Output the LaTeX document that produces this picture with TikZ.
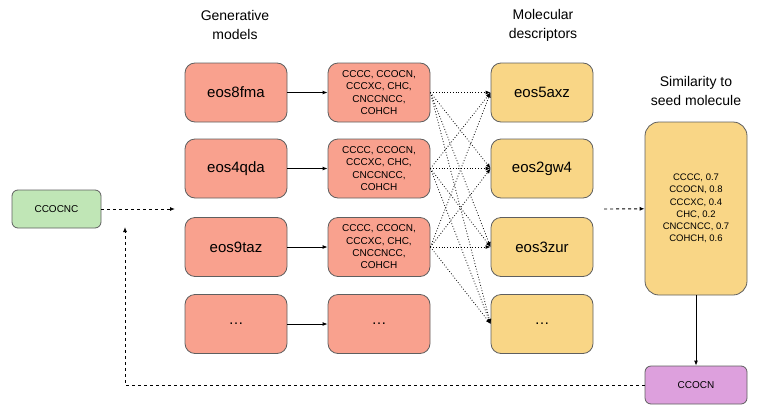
\documentclass[tikz,border=0pt]{standalone}
\usepackage{fontspec}
\setmainfont{Liberation Sans}
\usetikzlibrary{arrows.meta,positioning}
\definecolor{salmon}{RGB}{249,161,142}
\definecolor{sand}{RGB}{249,214,134}
\definecolor{mint}{RGB}{192,230,182}
\definecolor{lilac}{RGB}{221,160,221}
\definecolor{rim}{RGB}{95,95,95}

\begin{document}
\begin{tikzpicture}[
      x=1pt,y=-1pt,
      >={Latex[length=5pt,width=4pt]},
      box/.style={draw=rim,line width=0.8pt,rounded corners=10pt,minimum width=102pt,
                  minimum height=59pt,inner sep=2pt,align=center},
      gen/.style={box,fill=salmon,font=\fontsize{15}{18}\selectfont},
      smi/.style={box,fill=salmon,font=\fontsize{10}{12.3}\selectfont},
      desc/.style={box,fill=sand,font=\fontsize{15}{18}\selectfont},
      tag/.style={draw=rim,line width=0.8pt,rounded corners=6pt,minimum height=38pt,
                  font=\fontsize{10}{12}\selectfont},
      title/.style={align=center,font=\fontsize{14}{19}\selectfont},
      flow/.style={->,line width=0.9pt},
      loop/.style={->,line width=0.9pt,dash pattern=on 3pt off 3pt},
      fan/.style={->,line width=0.8pt,dotted},
    ]
    \useasboundingbox (0,0) rectangle (767,415);
    \node[title] (tgen) at (235,25)  {Generative\\models};
    \node[title] (tdes) at (543,25)  {Molecular\\descriptors};
    \node[title] (tsim) at (696,91)  {Similarity to\\seed molecule};
    \node[tag,fill=mint,minimum width=89pt] (seed) at (56.5,209) {CCOCNC};
    \node[gen] (g1) at (236,92.5)  {eos8fma};
    \node[gen] (g2) at (236,168.5) {eos4qda};
    \node[gen] (g3) at (236,247)   {eos9taz};
    \node[gen] (g4) at (236,324)   {\ldots};
    \node[smi] (m1) at (379,92.5)  {CCCC, CCOCN,\\CCCXC, CHC,\\CNCCNCC,\\COHCH};
    \node[smi] (m2) at (379,168.5) {CCCC, CCOCN,\\CCCXC, CHC,\\CNCCNCC,\\COHCH};
    \node[smi] (m3) at (379,247)   {CCCC, CCOCN,\\CCCXC, CHC,\\CNCCNCC,\\COHCH};
    \node[gen] (m4) at (379,324)   {\ldots};
    \node[desc] (d1) at (542,92.5)  {eos5axz};
    \node[desc] (d2) at (542,168.5) {eos2gw4};
    \node[desc] (d3) at (542,247)   {eos3zur};
    \node[desc] (d4) at (542,324)   {\ldots};
    \node[box,fill=sand,rounded corners=14pt,minimum height=173pt,
          font=\fontsize{9.5}{12.2}\selectfont] (sim) at (696,208.5)
          {CCCC, 0.7\\CCOCN, 0.8\\CCCXC, 0.4\\CHC, 0.2\\CNCCNCC, 0.7\\COHCH, 0.6};
    \node[tag,fill=lilac,minimum width=102pt] (best) at (696,385) {CCOCN};
    \coordinate (gin) at (175,209);
    \coordinate (dout) at (604,209);
    \coordinate (back) at (125,227);
    % seed into the models
    \draw[loop] (seed) -- (gin);
    \foreach \i in {1,...,4} \draw[flow] (g\i) -- (m\i);
    % every sample set to every descriptor
    \foreach \i in {1,2,3}
      \foreach \j in {1,...,4}
        \draw[fan] (m\i.east) -- (d\j.west);
    \draw[loop] (dout) -- (sim);
    \draw[flow] (sim) -- (best);
    \draw[loop] (best.west) -| (back);
  \end{tikzpicture}
\end{document}
